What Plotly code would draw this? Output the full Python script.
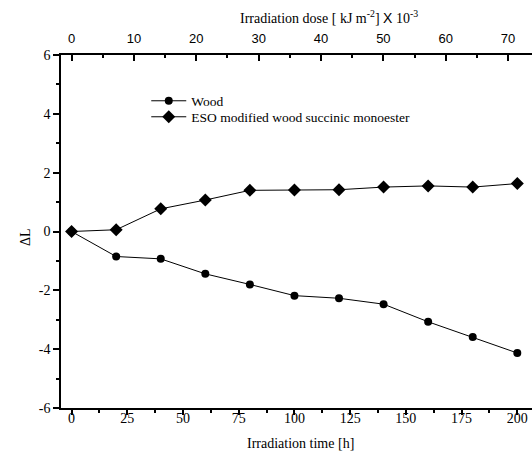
import plotly.graph_objects as go

time_h = [0, 20, 40, 60, 80, 100, 120, 140, 160, 180, 200]
wood = [0, -0.85, -0.93, -1.44, -1.80, -2.18, -2.27, -2.47, -3.07, -3.59, -4.13]
eso = [0, 0.06, 0.77, 1.07, 1.40, 1.41, 1.42, 1.51, 1.55, 1.51, 1.63]
dose_per_hour = 0.3574  # kJ m^-2 x10^-3 per hour (top axis scale)

y_ticks = [-6, -4, -2, 0, 2, 4, 6]
y_tick_text = ["-6", "-4", "-2", "0", "2", "4", "6"]

x_range = [-4.75, 206.6]
serif = "Liberation Serif, Times New Roman, serif"
sans = "Liberation Sans, Arial, sans-serif"

fig = go.Figure()
fig.add_trace(go.Scatter(x=time_h, y=wood, mode="lines+markers", name="Wood",
                         line=dict(color="black", width=1),
                         marker=dict(symbol="circle", size=8, color="black"),
                         legend="legend"))
fig.add_trace(go.Scatter(x=time_h, y=eso, mode="lines+markers",
                         name="ESO modified wood succinic monoester",
                         line=dict(color="black", width=1),
                         marker=dict(symbol="diamond", size=10, color="black"),
                         legend="legend2"))
# invisible trace to activate the top dose axis
fig.add_trace(go.Scatter(x=[t * dose_per_hour for t in time_h], y=eso, xaxis="x2",
                         mode="markers", marker=dict(opacity=0), showlegend=False,
                         hoverinfo="skip"))

leg_common = dict(xanchor="left", yanchor="middle", bgcolor="rgba(0,0,0,0)",
                  font=dict(family=serif, size=13.5), itemwidth=35)
fig.update_layout(
    width=532, height=464,
    margin=dict(l=61, r=0, t=55, b=56),
    paper_bgcolor="white", plot_bgcolor="white",
    font=dict(family=serif, size=14, color="black"),
    showlegend=True,
    legend=dict(x=0.181, y=(408 - 101) / 353, **leg_common),
    legend2=dict(x=0.181, y=(408 - 117) / 353, **leg_common),
    xaxis=dict(range=x_range, showgrid=False, zeroline=False,
               showline=True, linecolor="black", linewidth=1.5,
               ticks="outside", ticklen=5, tickwidth=1.5, tickcolor="black",
               tickmode="linear", tick0=0, dtick=25, ticklabelstandoff=-9,
               minor=dict(ticks="outside", ticklen=3, tickwidth=1.5, tickcolor="black",
                          tick0=0, dtick=12.5),
               tickfont=dict(family=serif, size=14)),
    xaxis2=dict(overlaying="x", side="top", anchor="y",
                range=[x_range[0] * dose_per_hour, x_range[1] * dose_per_hour],
                showgrid=False, zeroline=False,
                showline=True, linecolor="black", linewidth=1.5,
                ticks="inside", ticklen=6, tickwidth=1.5, tickcolor="black",
                tickmode="linear", tick0=0, dtick=10, ticklabelstandoff=5,
                minor=dict(ticks="inside", ticklen=3, tickwidth=1.5, tickcolor="black",
                           tick0=0, dtick=5),
                tickfont=dict(family=sans, size=13)),
    yaxis=dict(range=[-6, 6], showgrid=False, zeroline=False,
               showline=True, linecolor="black", linewidth=1.5,
               ticks="outside", ticklen=6, tickwidth=1.5, tickcolor="black",
               tickmode="array", tickvals=y_ticks, ticktext=y_tick_text,
               minor=dict(ticks="outside", ticklen=3, tickwidth=1.5, tickcolor="black",
                          tick0=-6, dtick=1),
               tickfont=dict(family=serif, size=14)),
)

fig.add_annotation(text="Irradiation time [h]", xref="paper", yref="paper",
                   x=(300 - 61) / 471, y=-(443 - 408) / 353, showarrow=False,
                   xanchor="center", yanchor="middle", font=dict(family=serif, size=14))
fig.add_annotation(text="Irradiation dose [ kJ m<sup>-2</sup>] <span style='font-family:Liberation Sans'>X</span> 10<sup>-3</sup>",
                   xref="paper", yref="paper",
                   x=(329 - 61) / 471, y=1 + (55 - 17) / 353, showarrow=False,
                   xanchor="center", yanchor="middle", font=dict(family=serif, size=14))
fig.add_annotation(text="ΔL", xref="paper", yref="paper",
                   x=-(61 - 25) / 471, y=(408 - 237) / 353, showarrow=False,
                   textangle=-90, xanchor="center", yanchor="middle",
                   font=dict(family=serif, size=14))

fig.write_html("out.html")
